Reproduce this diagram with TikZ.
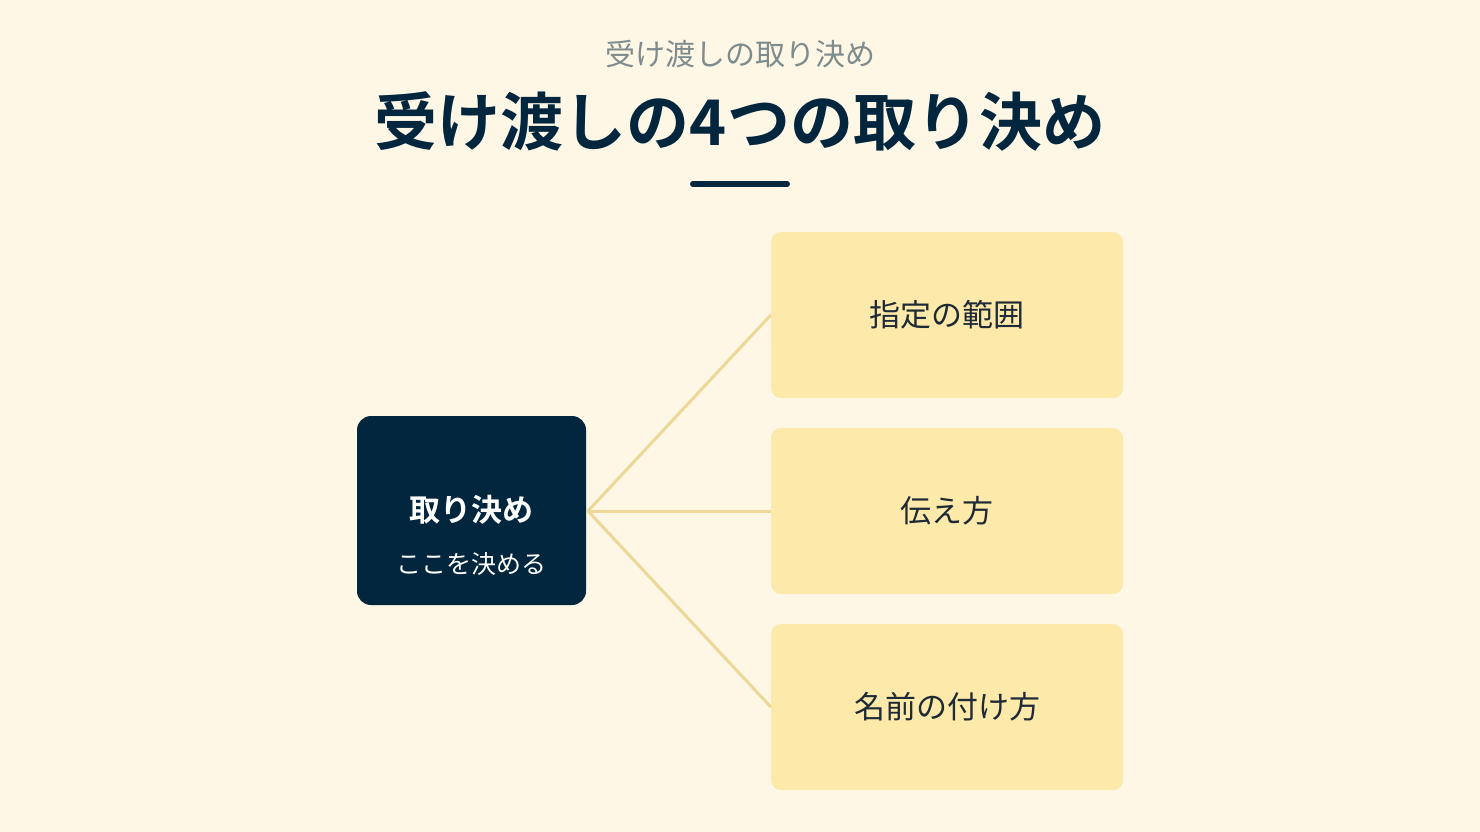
\documentclass[tikz,border=0pt]{standalone}
\usepackage{fontspec}
\newfontfamily\cjk{Noto Sans CJK JP}
\newfontfamily\cjkbold{Noto Sans CJK JP Bold}
\definecolor{bg}{HTML}{FEF7E6}
\definecolor{navy}{HTML}{03263F}
\definecolor{boxy}{HTML}{FDE9A9}
\definecolor{linec}{HTML}{EDD898}
\definecolor{subg}{HTML}{7F8C8D}
\definecolor{txt}{HTML}{1E2A36}
\begin{document}
\begin{tikzpicture}[x=1pt,y=-1pt,
  itembox/.style={fill=boxy,rounded corners=10pt,minimum width=352pt,minimum height=166pt,inner sep=0pt,font=\cjk\fontsize{31}{36}\selectfont,text=txt},
  link/.style={draw=linec,line width=3pt}]
\fill[bg] (0,0) rectangle (1480,832);
\useasboundingbox (0,0) rectangle (1480,832);
\node[text=subg,font=\cjk\fontsize{30}{34}\selectfont] (sub) at (740,54) {受け渡しの取り決め};
\node[text=navy,font=\cjkbold\fontsize{63}{72}\selectfont] (title) at (740,121) {受け渡しの4つの取り決め};
\draw[navy,line width=6pt,line cap=round] (693,184) -- (787,184);
\coordinate (o) at (588,511);
\node[itembox] (a) at (947,315) {指定の範囲};
\node[itembox] (b) at (947,511) {伝え方};
\node[itembox] (c) at (947,707) {名前の付け方};
\draw[link] (o) -- (a.west);
\draw[link] (o) -- (b.west);
\draw[link] (o) -- (c.west);
\node[fill=navy,rounded corners=14pt,minimum width=229pt,minimum height=189pt,inner sep=0pt] (hub) at (471.5,510.5) {};
\node[text=white,font=\cjkbold\fontsize{31}{36}\selectfont] (hubt) at (471.5,510) {取り決め};
\node[text=white,font=\cjk\fontsize{25}{30}\selectfont] (hubs) at (471.5,564) {ここを決める};
\end{tikzpicture}
\end{document}
